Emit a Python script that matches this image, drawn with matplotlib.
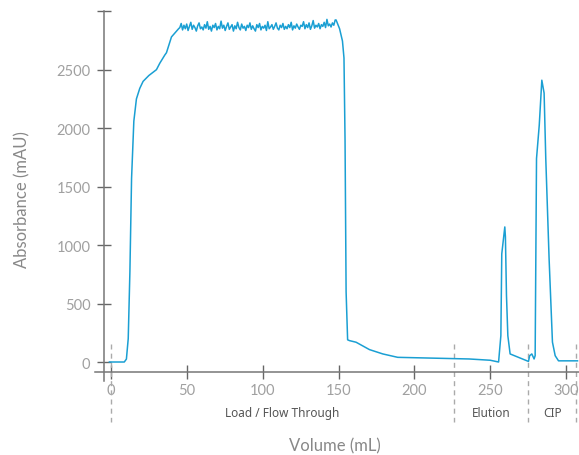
import numpy as np
import matplotlib
matplotlib.use("Agg")
import matplotlib.pyplot as plt

# rise from baseline to the plateau (mL, mAU)
rise_vol = [-1.0, 8.8, 10.2, 11.4, 12.5, 13.6, 15.1, 16.8, 19.0, 21.2, 25.0, 30.0,
            32.2, 35.5, 36.6, 39.9, 43.2, 44.6]
rise_abs = [0, 0, 25, 200, 770, 1570, 2060, 2250, 2340, 2400, 2450, 2500,
            2555, 2625, 2645, 2780, 2830, 2850]

# noisy flow-through plateau
plateau_start, plateau_end = 45.4, 147.8
plateau_abs = [2860, 2895, 2840, 2880, 2850, 2890, 2835, 2870, 2905, 2845, 2880, 2860,
               2830, 2875, 2900, 2850, 2865, 2840, 2885, 2855, 2910, 2845, 2870, 2830,
               2880, 2860, 2895, 2840, 2870, 2850, 2915, 2855, 2880, 2835, 2870, 2900,
               2845, 2865, 2885, 2830, 2875, 2850, 2905, 2860, 2840, 2890, 2855, 2870,
               2835, 2880, 2860, 2900, 2845, 2875, 2850, 2830, 2885, 2860, 2895, 2840,
               2870, 2855, 2880, 2835, 2910, 2850, 2865, 2885, 2845, 2870, 2900, 2855,
               2840, 2880, 2860, 2895, 2845, 2870, 2850, 2885, 2860, 2905, 2840, 2875,
               2855, 2890, 2865, 2845, 2880, 2870, 2910, 2850, 2885, 2860, 2900, 2845,
               2875, 2920, 2855, 2880, 2865, 2895, 2850, 2885, 2870, 2905, 2860, 2930,
               2875, 2890, 2865, 2900, 2880, 2925]

# wash, elution and CIP
tail_vol = [148.4, 150.7, 152.6, 153.6, 154.3, 155.0, 156.0, 157.2, 161.6, 170.4, 179.2,
            189.0, 236.0, 250.0, 255.5, 257.0, 257.6, 259.6, 260.0, 260.7, 261.6, 263.1,
            275.2, 276.0, 277.4, 278.9, 279.6, 280.5, 282.3, 284.0, 285.5, 286.6, 288.8,
            291.0, 292.8, 295.0, 307.5]
tail_abs = [2925, 2850, 2745, 2600, 1900, 600, 190, 183, 169, 106, 69,
            40, 26, 15, 0, 225, 925, 1155, 1070, 570, 225, 69,
            5, 54, 69, 26, 54, 1740, 2025, 2410, 2300, 1740, 880,
            170, 54, 10, 10]

section_bounds = [0, 226, 275, 306.5]
section_names = ["Load / Flow Through", "Elution", "CIP"]
section_centers = [113, 250.6, 290.8]

yticks = [0, 500, 1000, 1500, 2000, 2500, 3000]
ytick_labels = ["0", "500", "1000", "1500", "2000", "2500", ""]
xticks = [0, 50, 100, 150, 200, 250, 300]

vol = np.concatenate([rise_vol, np.linspace(plateau_start, plateau_end, len(plateau_abs)), tail_vol])
absorb = np.concatenate([rise_abs, plateau_abs, tail_abs])

W, H = 579, 456
fig = plt.figure(figsize=(W / 100, H / 100), dpi=100)
ax = fig.add_axes([95 / W, (H - 382.3) / H, (W - 95) / W, (382.3 - 12.2) / H])
ax.set_xlim(-10.5, 308.5)
ax.set_ylim(-165, 3000)

ax.plot(vol, absorb, color="#1a9fd3", lw=1.1, zorder=3)

for s in ["top", "right"]:
    ax.spines[s].set_visible(False)
ax.spines["left"].set_position(("data", -4.6))
ax.spines["bottom"].set_position(("data", -85))
ax.spines["left"].set_bounds(-165, 3000)
for s in ["left", "bottom"]:
    ax.spines[s].set_color("#777777")
    ax.spines[s].set_linewidth(1.1)

ax.set_yticks(yticks)
ax.set_yticklabels(ytick_labels)
ax.set_xticks(xticks)
ax.tick_params(direction="inout", length=9.5, width=1.0, color="#666666",
               labelcolor="#a0a0a0", labelsize=10.5)
ax.tick_params(axis="y", pad=5)
ax.tick_params(axis="x", pad=3)
for lab in ax.get_xticklabels() + ax.get_yticklabels():
    lab.set_fontfamily("Lato")

# section dividers below the axis
for b in section_bounds:
    ax.plot([b, b], [154, -513], color="#aaaaaa", lw=1.0, dashes=(3.6, 3.0),
            clip_on=False, zorder=2)

for name, c in zip(section_names, section_centers):
    ax.text(c, -428, name, ha="center", va="center", fontsize=8.5,
            color="#555555", family="Noto Sans")

fig.text(335 / W, 1 - 446 / H, "Volume (mL)", ha="center", va="center",
         fontsize=12, color="#888888", family="Lato")
fig.text(22 / W, 1 - 200 / H, "Absorbance (mAU)", ha="center", va="center",
         rotation=90, fontsize=12, color="#888888", family="Lato")

fig.savefig("out.png", dpi=100)
